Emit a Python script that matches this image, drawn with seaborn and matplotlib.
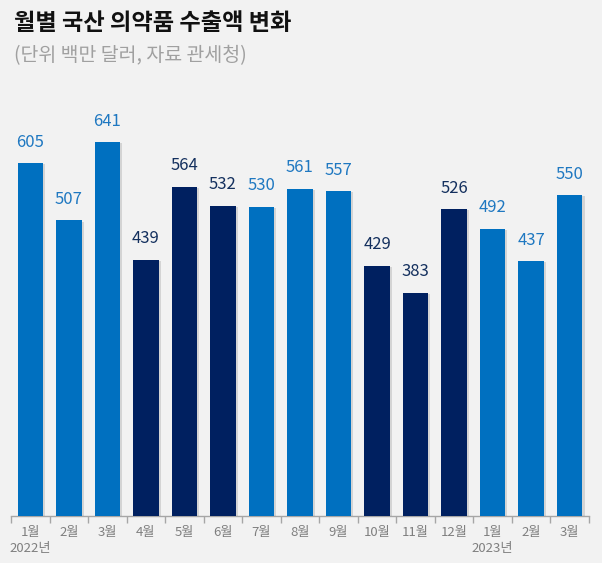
import matplotlib
matplotlib.use("Agg")
import matplotlib.pyplot as plt
import matplotlib.patheffects as pe
from matplotlib.ticker import FixedLocator
import seaborn as sns
import pandas as pd

# data
months = ["1월", "2월", "3월", "4월", "5월", "6월", "7월", "8월",
          "9월", "10월", "11월", "12월", "1월", "2월", "3월"]
years = ["2022년", "", "", "", "", "", "", "", "", "", "", "", "2023년", "", ""]
keys = ["2022-01", "2022-02", "2022-03", "2022-04", "2022-05", "2022-06",
        "2022-07", "2022-08", "2022-09", "2022-10", "2022-11", "2022-12",
        "2023-01", "2023-02", "2023-03"]
exports = [605, 507, 641, 439, 564, 532, 530, 561, 557, 429, 383, 526, 492, 437, 550]
dark = [False, False, False, True, True, True, False, False, False,
        True, True, True, False, False, False]

LIGHT = "#0070C0"
NAVY = "#002060"
bar_colors = [NAVY if d else LIGHT for d in dark]
label_colors = ["#14305e" if d else "#1f78c1" for d in dark]

df = pd.DataFrame({"key": keys, "value": exports})

sns.set_theme(style="white")
plt.rcParams["font.family"] = ["Noto Sans CJK KR", "DejaVu Sans"]

W, H = 602, 563
fig = plt.figure(figsize=(W / 100, H / 100), dpi=100, facecolor="#f2f2f2")
ax = fig.add_axes([11 / W, 47 / H, 578 / W, 416 / H])
ax.set_facecolor("#f2f2f2")

sns.barplot(data=df, x="key", y="value", hue="key", palette=bar_colors,
            legend=False, width=0.66, saturation=1, ax=ax, zorder=3)

# soft shadow on the right side of each bar
for patch in ax.patches:
    patch.set_linewidth(0)
    patch.set_path_effects([pe.SimplePatchShadow(offset=(1.5, -1), alpha=0.12,
                                                 shadow_rgbFace="#000000"),
                            pe.Normal()])

for i, v in enumerate(exports):
    ax.annotate(str(v), (i, v), xytext=(0, 9), textcoords="offset points",
                ha="center", va="bottom", fontsize=12, color=label_colors[i])

ax.set_xlim(-0.5, len(keys) - 0.5)
ax.set_ylim(0, 713)
ax.set_yticks([])
ax.set_xlabel("")
ax.set_ylabel("")
for s in ["top", "right", "left"]:
    ax.spines[s].set_visible(False)
ax.spines["bottom"].set_color("#a6a6a6")
ax.spines["bottom"].set_linewidth(1)

ax.set_xticks(range(len(keys)))
ax.set_xticklabels([m if not y else m + "\n" + y for m, y in zip(months, years)],
                   fontsize=9.5, color="#7f7f7f", linespacing=1.3, va="top")
ax.tick_params(axis="x", which="major", length=0, pad=7)
ax.xaxis.set_minor_locator(FixedLocator([i - 0.5 for i in range(len(keys) + 1)]))
ax.tick_params(axis="x", which="minor", length=5, width=1, color="#a6a6a6",
               bottom=True)
for lbl in ax.get_xticklabels():
    lbl.set_multialignment("center")

fig.text(14 / W, 1 - 23 / H, "월별 국산 의약품 수출액 변화", fontsize=16.7,
         fontweight="bold", color="#111111", va="center", ha="left")
fig.text(14 / W, 1 - 56 / H, "(단위 백만 달러, 자료 관세청)", fontsize=14,
         color="#a0a0a0", va="center", ha="left")

fig.savefig("out.png", dpi=100, facecolor=fig.get_facecolor())
